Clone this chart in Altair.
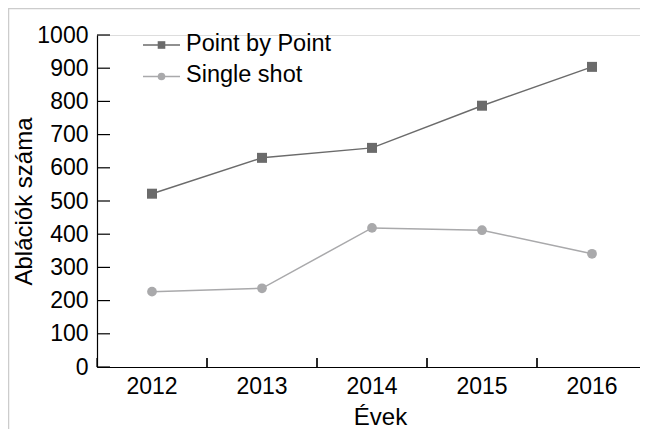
import altair as alt
import pandas as pd

years = ["2012", "2013", "2014", "2015", "2016"]
point_by_point = [522, 630, 660, 787, 904]
single_shot = [227, 237, 419, 412, 341]
series_names = ["Point by Point", "Single shot"]
y_ticks = [0, 100, 200, 300, 400, 500, 600, 700, 800, 900, 1000]

df = pd.DataFrame({
    "year": years * 2,
    "value": point_by_point + single_shot,
    "series": [series_names[0]] * len(years) + [series_names[1]] * len(years),
})
ytick_df = pd.DataFrame({"value": y_ticks})
xtick_df = pd.DataFrame({"year": years})
legend_df = pd.DataFrame({"series": series_names})

W, H = 543, 332
XRANGE = 550  # the x axis runs to the right edge of the page, as in the reference
DARK = "#6b6b6b"
LIGHT = "#a9a9ab"
COLORS = [DARK, LIGHT]
SHAPES = ["square", "circle"]
FONT = "Liberation Sans"

xscale = alt.Scale(type="band", paddingInner=0, paddingOuter=0, domain=years, range=[0, XRANGE])
yscale = alt.Scale(domain=[0, 1000], nice=False)

xaxis = alt.Axis(title="Évek", ticks=False, grid=False, labelFontSize=23, labelPadding=8,
                 labelAngle=0, labelColor="black", domainColor="black", domainWidth=1.2,
                 titleFontSize=24, titleFontWeight="normal", titleColor="black",
                 titleX=283, titleY=57, titleBaseline="alphabetic", titleAlign="center",
                 labelFont=FONT, titleFont=FONT)
yaxis = alt.Axis(title="Ablációk száma", values=y_ticks, format="d", ticks=False, grid=False,
                 labelFontSize=23, labelPadding=9, labelColor="black",
                 domainColor="black", domainWidth=1.2,
                 titleFontSize=24, titleFontWeight="normal", titleColor="black",
                 titleAngle=270, titleX=-66, titleY=H / 2, titleBaseline="alphabetic",
                 titleAlign="center", labelFont=FONT, titleFont=FONT)

X = alt.X("year:N", scale=xscale, axis=xaxis)
Y = alt.Y("value:Q", scale=yscale, axis=yaxis)
color_scale = alt.Scale(domain=series_names, range=COLORS)

lines = alt.Chart(df).mark_line(strokeWidth=1.5).encode(
    x=X, y=Y,
    color=alt.Color("series:N", scale=color_scale, legend=None),
)
pts_a = alt.Chart(df).transform_filter(alt.datum.series == series_names[0]).mark_point(
    shape="square", filled=True, size=100, opacity=1, color=DARK).encode(x=X, y=Y)
pts_b = alt.Chart(df).transform_filter(alt.datum.series == series_names[1]).mark_point(
    shape="circle", filled=True, size=95, opacity=1, color=LIGHT).encode(x=X, y=Y)

ytick_rules = alt.Chart(ytick_df).mark_rule(color="black", strokeWidth=1.2).encode(
    y=Y, x=alt.value(0), x2=alt.value(13))
xtick_rules0 = alt.Chart(xtick_df).mark_rule(color="black", strokeWidth=1.2).encode(
    x=alt.X("year:N", scale=xscale, axis=xaxis, bandPosition=0), y=alt.value(H - 9), y2=alt.value(H))
xtick_rules1 = alt.Chart(xtick_df).mark_rule(color="black", strokeWidth=1.2).encode(
    x=alt.X("year:N", scale=xscale, axis=xaxis, bandPosition=1), y=alt.value(H - 9), y2=alt.value(H))

# legend drawn inside the plot, top-left
legend_layers = []
for i, name in enumerate(series_names):
    sub = legend_df[legend_df["series"] == name]
    ys = 10 + 31.5 * i
    legend_layers.append(alt.Chart(sub).mark_rule(color=COLORS[i], strokeWidth=1.5).encode(
        x=alt.value(46), x2=alt.value(83), y=alt.value(ys)))
    legend_layers.append(alt.Chart(sub).mark_point(
        shape=SHAPES[i], filled=True, opacity=1, size=58, color=COLORS[i]).encode(
        x=alt.value(64.5), y=alt.value(ys)))
    legend_layers.append(alt.Chart(sub).mark_text(
        align="left", baseline="alphabetic", fontSize=23.5, font=FONT, color="black").encode(
        x=alt.value(89), y=alt.value(ys + 5.5), text="series:N"))

frame_top = alt.Chart(pd.DataFrame({"a": [0]})).mark_rule(color="#cccccc", strokeWidth=1.5).encode(
    x=alt.value(-89), x2=alt.value(W + 2), y=alt.value(-26.5))
frame_left = alt.Chart(pd.DataFrame({"a": [0]})).mark_rule(color="#cccccc", strokeWidth=1.5).encode(
    x=alt.value(-88.5), y=alt.value(-27), y2=alt.value(H + 62))

chart = alt.layer(
    frame_top, frame_left, lines, pts_a, pts_b, ytick_rules, xtick_rules0, xtick_rules1,
    *legend_layers
).properties(
    width=W, height=H,
    autosize=alt.AutoSizeParams(type="none"),
    padding={"left": 89, "top": 27, "right": 0, "bottom": 62},
).configure_view(stroke=None).configure(font=FONT)

chart.save("out.html", embed_options={"renderer": "svg", "actions": False})
